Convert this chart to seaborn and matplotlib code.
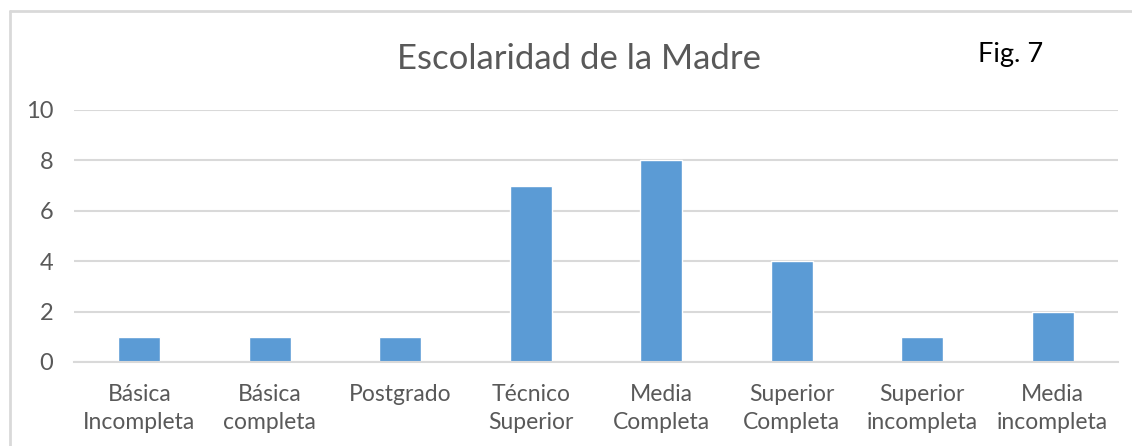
import matplotlib
matplotlib.use("Agg")
import matplotlib.pyplot as plt
import seaborn as sns
import pandas as pd
from matplotlib.lines import Line2D

# datos del gráfico
categorias = ["Básica\nIncompleta", "Básica\ncompleta", "Postgrado", "Técnico\nSuperior",
              "Media\nCompleta", "Superior\nCompleta", "Superior\nincompleta", "Media\nincompleta"]
valores = [1, 1, 1, 7, 8, 4, 1, 2]
y_ticks = [0, 2, 4, 6, 8, 10]

df = pd.DataFrame({"categoria": categorias, "valor": valores})

sns.set_style("white")
plt.rcParams['font.family'] = ['Lato', 'DejaVu Sans']

W, H = 1132, 446
fig = plt.figure(figsize=(W / 100, H / 100), dpi=100)
ax = fig.add_axes([74 / W, 1 - 362 / H, (1118 - 74) / W, (362 - 110) / H])

sns.barplot(data=df, x="categoria", y="valor", color="#5B9BD5", width=0.32,
            saturation=1, ax=ax)

ax.set_ylim(0, 10)
ax.set_yticks(y_ticks)
ax.set_xlim(-0.5, len(categorias) - 0.5)
ax.yaxis.grid(True, color="#D9D9D9", linewidth=1.5)
ax.set_axisbelow(True)
for s in ["top", "right", "left"]:
    ax.spines[s].set_visible(False)
ax.spines["bottom"].set_color("#D9D9D9")
ax.spines["bottom"].set_linewidth(1.5)
ax.set_xlabel("")
ax.set_ylabel("")
ax.tick_params(axis="both", length=0, labelcolor="#595959")
ax.tick_params(axis="x", pad=16, labelsize=16.5)
ax.tick_params(axis="y", pad=15, labelsize=17)
for lbl in ax.get_xticklabels():
    lbl.set_linespacing(1.4)

# título y nota
fig.text(579 / W, 1 - 69 / H, "Escolaridad de la Madre", ha="center", va="baseline",
         fontsize=25, color="#595959")
fig.text(1011 / W, 1 - 62 / H, "Fig. 7", ha="center", va="baseline",
         fontsize=19.5, color="black")

# marco del gráfico
x0 = 10 / W
y0 = 1 - 11 / H
fig.add_artist(Line2D([x0, x0], [0, y0], transform=fig.transFigure, color="#D9D9D9", lw=2))
fig.add_artist(Line2D([x0, 1], [y0, y0], transform=fig.transFigure, color="#D9D9D9", lw=2))

fig.savefig("out.png", dpi=100, facecolor="white")
plt.close("all")
